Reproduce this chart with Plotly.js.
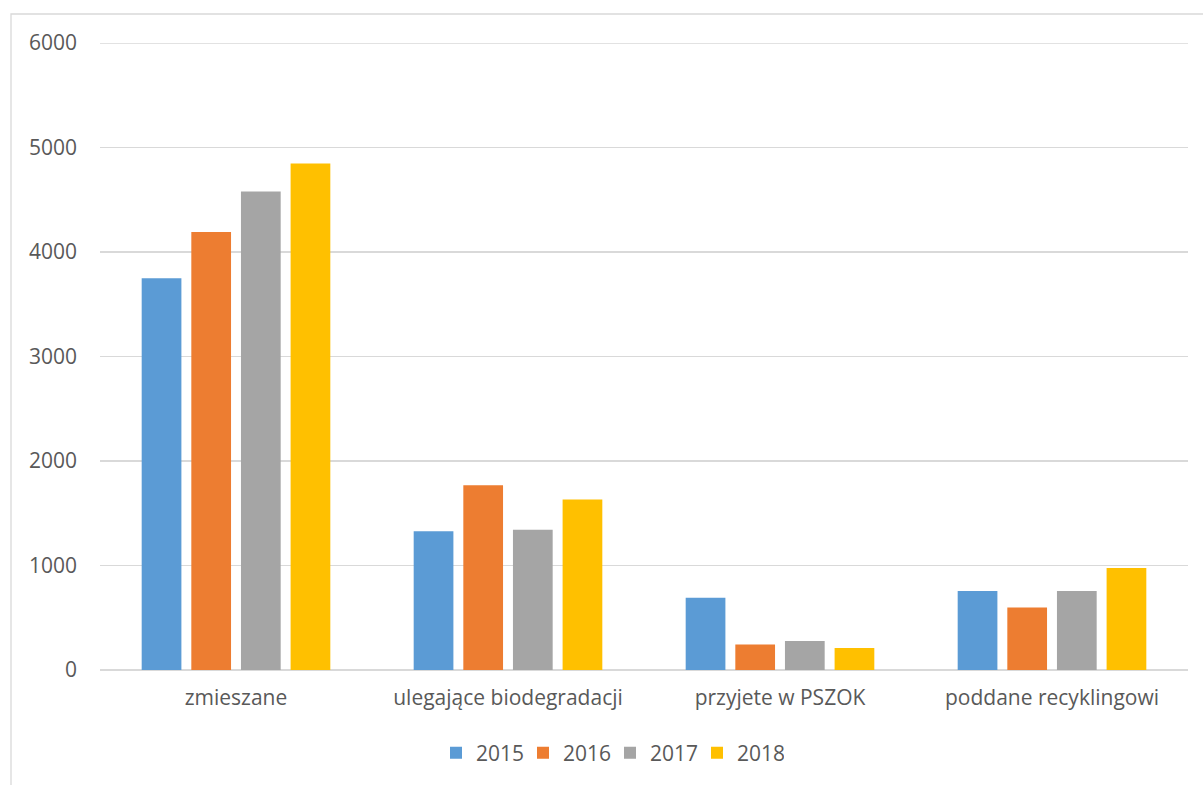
<!DOCTYPE html>
<html>
<head>
<meta charset="utf-8">
<script src="https://cdn.plot.ly/plotly-3.0.1.min.js"></script>
<style>
html,body{margin:0;padding:0;background:#fff;}
#chart{width:1203px;height:785px;}
</style>
</head>
<body>
<div id="chart"></div>
<script>
const categories = ["zmieszane", "ulegające biodegradacji", "przyjete w PSZOK", "poddane recyklingowi"];
const seriesNames = ["2015", "2016", "2017", "2018"];
const v2015 = [3748, 1327, 692, 756];
const v2016 = [4191, 1767, 243, 597];
const v2017 = [4578, 1343, 277, 756];
const v2018 = [4846, 1631, 210, 976];
const yTicks = [0, 1000, 2000, 3000, 4000, 5000, 6000];
const colors = ["#5B9BD5", "#ED7D31", "#A5A5A5", "#FFC000"];

const W = 1203, H = 785;
const M = {l: 100, r: 15, t: 43, b: 115};
const pw = W - M.l - M.r, ph = H - M.t - M.b;
const FONT = "Open Sans, Liberation Sans, sans-serif";
const TXT = "#595959";
const FS = 21;

const values = [v2015, v2016, v2017, v2018];
const traces = values.map((v, i) => ({
  type: "bar",
  name: seriesNames[i],
  x: categories,
  y: v,
  marker: {color: colors[i]},
  hoverinfo: "x+y+name"
}));

// pixel -> paper helpers for chart frame
const px = x => (x - M.l) / pw;
const py = y => 1 - (y - M.t) / ph;

const layout = {
  width: W, height: H,
  margin: M,
  paper_bgcolor: "#ffffff",
  plot_bgcolor: "#ffffff",
  font: {family: FONT, size: FS, color: TXT},
  barmode: "group",
  bargap: 0.27,
  bargroupgap: 0.2,
  showlegend: true,
  legend: {
    orientation: "h",
    x: 0.5 - 34 / pw, xanchor: "center",
    y: py(753), yanchor: "middle",
    font: {family: FONT, size: FS, color: TXT},
    traceorder: "normal",
    itemwidth: 30,
    entrywidth: 42,
    entrywidthmode: "pixels"
  },
  xaxis: {
    type: "category",
    showgrid: false,
    showline: false,
    zeroline: false,
    ticks: "",
    ticklabelstandoff: 13,
    tickfont: {family: FONT, size: FS, color: TXT}
  },
  yaxis: {
    range: [0, 6000],
    tickvals: yTicks,
    ticktext: yTicks.map(String),
    showgrid: true,
    gridcolor: "#d9d9d9",
    gridwidth: 1.3,
    zeroline: true,
    zerolinecolor: "#d9d9d9",
    zerolinewidth: 1.3,
    showline: false,
    ticks: "",
    ticklabelstandoff: 22,
    tickfont: {family: FONT, size: FS, color: TXT}
  },
  shapes: [{
    type: "rect", xref: "paper", yref: "paper",
    x0: px(11), x1: px(1215), y0: py(14), y1: py(800),
    line: {color: "#d9d9d9", width: 1.3},
    fillcolor: "rgba(0,0,0,0)",
    layer: "below"
  }, {
    type: "line", xref: "paper", yref: "y",
    x0: 0, x1: 1, y0: yTicks[yTicks.length - 1], y1: yTicks[yTicks.length - 1],
    line: {color: "#d9d9d9", width: 1.3},
    layer: "below"
  }]
};

Plotly.newPlot("chart", traces, layout, {displayModeBar: false, staticPlot: true});
</script>
</body>
</html>
